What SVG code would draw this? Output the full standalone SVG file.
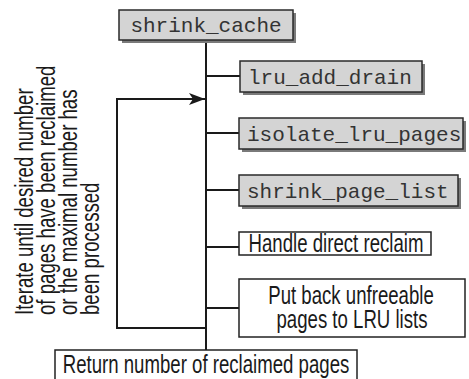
<svg xmlns="http://www.w3.org/2000/svg" width="469" height="379" viewBox="0 0 469 379">
<style>
.mono{font-family:"Liberation Mono","Courier New",monospace;font-size:21px;fill:#333}
.sans{font-family:"Liberation Sans",Arial,sans-serif;font-size:25px;fill:#1a1a1a}
.gbox{fill:#d4d4d4;stroke:#2a2a2a;stroke-width:1.5}
.shadow{fill:#7a7a7a}
.wbox{fill:#fff;stroke:#222;stroke-width:1.5}
.ln{stroke:#1a1a1a;stroke-width:2;fill:none}
</style>
<defs>
<marker id="arr" viewBox="0 0 16 12" refX="16" refY="6" markerWidth="16" markerHeight="12" markerUnits="userSpaceOnUse" orient="auto">
<path d="M0,0 L16,6 L0,12 L4,6 Z" fill="#1a1a1a"/>
</marker>
</defs>
<g id="connectors">
<line class="ln" x1="206" y1="40" x2="206" y2="350"/>
<line class="ln" x1="206" y1="76" x2="240" y2="76"/>
<line class="ln" x1="206" y1="133" x2="239" y2="133"/>
<line class="ln" x1="206" y1="190" x2="239" y2="190"/>
<line class="ln" x1="206" y1="247" x2="239" y2="247"/>
<line class="ln" x1="206" y1="308" x2="239" y2="308"/>
<polyline class="ln" points="206,328 117,328 117,99 205,99" marker-end="url(#arr)"/>
</g>
<g id="shrink_cache">
<rect class="shadow" x="122" y="13" width="174" height="30"/>
<rect class="gbox" x="119" y="10" width="174" height="30"/>
<text class="mono" x="206" y="32" text-anchor="middle">shrink_cache</text>
</g>
<g id="lru_add_drain">
<rect class="shadow" x="243" y="64" width="182" height="31"/>
<rect class="gbox" x="240" y="61" width="182" height="31"/>
<text class="mono" x="248" y="84">lru_add_drain</text>
</g>
<g id="isolate_lru_pages">
<rect class="shadow" x="242" y="121" width="224" height="31"/>
<rect class="gbox" x="239" y="118" width="224" height="31"/>
<text class="mono" x="247" y="141">isolate_lru_pages</text>
</g>
<g id="shrink_page_list">
<rect class="shadow" x="242" y="178" width="219" height="31"/>
<rect class="gbox" x="239" y="175" width="219" height="31"/>
<text class="mono" x="247" y="198">shrink_page_list</text>
</g>
<g id="handle_direct_reclaim">
<rect class="wbox" x="239" y="232" width="192" height="23"/>
<text class="sans" transform="translate(336,252) scale(0.745,1)" text-anchor="middle">Handle direct reclaim</text>
</g>
<g id="put_back">
<rect class="wbox" x="239" y="279" width="226" height="58"/>
<text class="sans" transform="translate(351,304) scale(0.745,1)" text-anchor="middle">Put back unfreeable</text>
<text class="sans" transform="translate(352,328) scale(0.745,1)" text-anchor="middle">pages to LRU lists</text>
</g>
<g id="return_pages">
<rect class="wbox" x="55" y="350" width="302" height="40"/>
<text class="sans" transform="translate(206,373) scale(0.745,1)" text-anchor="middle">Return number of reclaimed pages</text>
</g>
<g id="loop_label">
<text class="sans" transform="translate(33,315) rotate(-90) scale(0.745,1)">Iterate until desired number</text>
<text class="sans" transform="translate(55,315) rotate(-90) scale(0.745,1)">of pages have been reclaimed</text>
<text class="sans" transform="translate(77,315) rotate(-90) scale(0.745,1)">or the maximal number has</text>
<text class="sans" transform="translate(99,315) rotate(-90) scale(0.745,1)">been processed</text>
</g>
</svg>
